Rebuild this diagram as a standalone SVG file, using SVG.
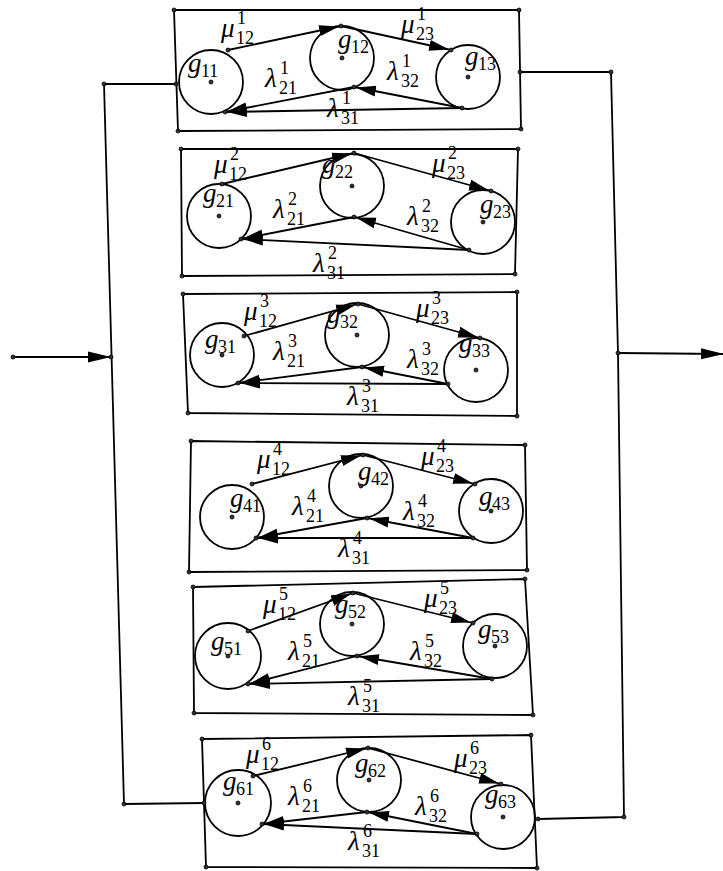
<svg xmlns="http://www.w3.org/2000/svg" width="723" height="871" viewBox="0 0 723 871">
<defs>
<style>
.bx{fill:none;stroke:#000;stroke-width:1.8}
.nd{fill:none;stroke:#000;stroke-width:1.8}
.ln{fill:none;stroke:#000;stroke-width:1.8}
.ar{fill:none;stroke:#000;stroke-width:1.8;marker-end:url(#ah)}
.pt{fill:#333;stroke:#000;stroke-width:0.8}
.m{font-family:"Liberation Serif",serif;font-style:italic;font-size:27px;fill:#000}
.s{font-family:"Liberation Serif",serif;font-size:18px;fill:#000}
</style>
<marker id="ah" markerUnits="userSpaceOnUse" markerWidth="21" markerHeight="12" viewBox="0 0 21 12" refX="22" refY="6" orient="auto"><path d="M0,0.5 L20,6 L0,11.5 z" fill="#000"/></marker>
<marker id="ahb" markerUnits="userSpaceOnUse" markerWidth="24" markerHeight="12" viewBox="0 0 24 12" refX="23" refY="6" orient="auto"><path d="M0,0.5 L23,6 L0,11.5 z" fill="#000"/></marker>
</defs>
<rect width="723" height="871" fill="#fff"/>

<g id="connectors">
<polyline class="ln" points="176,84 104,84 124,804 204,803"/>
<line class="ln" x1="13" y1="357" x2="111" y2="357" marker-end="url(#ahb)"/>
<polyline class="ln" points="520,72 611,72 618,353 624,817 538,819"/>
<line class="ln" x1="618" y1="353" x2="724" y2="354" marker-end="url(#ahb)"/>
<line class="ar" x1="228" y1="50" x2="341" y2="26"/>
<line class="ar" x1="341" y1="26" x2="451" y2="50"/>
<line class="ar" x1="354" y1="87" x2="225" y2="112"/>
<line class="ar" x1="462" y1="108" x2="354" y2="87"/>
<line class="ar" x1="462" y1="108" x2="225" y2="112"/>
<line class="ar" x1="222" y1="184" x2="354" y2="153"/>
<line class="ar" x1="354" y1="153" x2="491" y2="191"/>
<line class="ar" x1="354" y1="217" x2="241" y2="239"/>
<line class="ar" x1="469" y1="250" x2="354" y2="217"/>
<line class="ar" x1="469" y1="250" x2="241" y2="239"/>
<line class="ar" x1="244" y1="336" x2="358" y2="304"/>
<line class="ar" x1="358" y1="304" x2="480" y2="338"/>
<line class="ar" x1="362" y1="367" x2="238" y2="383"/>
<line class="ar" x1="448" y1="384" x2="362" y2="367"/>
<line class="ar" x1="448" y1="384" x2="238" y2="383"/>
<line class="ar" x1="252" y1="484" x2="363" y2="455"/>
<line class="ar" x1="363" y1="455" x2="475" y2="484"/>
<line class="ar" x1="367" y1="518" x2="256" y2="538"/>
<line class="ar" x1="473" y1="538" x2="367" y2="518"/>
<line class="ar" x1="473" y1="538" x2="256" y2="538"/>
<line class="ar" x1="248" y1="631" x2="353" y2="593"/>
<line class="ar" x1="353" y1="593" x2="473" y2="623"/>
<line class="ar" x1="357" y1="656" x2="248" y2="684"/>
<line class="ar" x1="492" y1="679" x2="357" y2="656"/>
<line class="ar" x1="492" y1="679" x2="248" y2="684"/>
<line class="ar" x1="253" y1="776" x2="368" y2="748"/>
<line class="ar" x1="368" y1="748" x2="501" y2="784"/>
<line class="ar" x1="367" y1="812" x2="262" y2="824"/>
<line class="ar" x1="477" y1="834" x2="367" y2="812"/>
<line class="ar" x1="477" y1="834" x2="262" y2="824"/>
</g>

<g id="box1">
<polygon class="bx" points="174,10 519,10 521,129 178,131"/>
<g id="g11"><circle class="nd" cx="211" cy="82" r="32"/><text><tspan class="m" x="188" y="72">g</tspan><tspan class="s" x="201" y="77">11</tspan></text></g>
<g id="g12"><circle class="nd" cx="342" cy="58" r="32"/><text><tspan class="m" x="338" y="48">g</tspan><tspan class="s" x="351" y="53">12</tspan></text></g>
<g id="g13"><circle class="nd" cx="468" cy="77" r="32"/><text><tspan class="m" x="465" y="65">g</tspan><tspan class="s" x="478" y="70">13</tspan></text></g>
<text><tspan class="m" x="221" y="37">μ</tspan><tspan class="s" x="236" y="44">12</tspan><tspan class="s" x="237" y="24">1</tspan></text>
<text><tspan class="m" x="401" y="33">μ</tspan><tspan class="s" x="416" y="40">23</tspan><tspan class="s" x="417" y="20">1</tspan></text>
<text><tspan class="m" x="265" y="87">λ</tspan><tspan class="s" x="279" y="94">21</tspan><tspan class="s" x="280" y="74">1</tspan></text>
<text><tspan class="m" x="387" y="80">λ</tspan><tspan class="s" x="401" y="87">32</tspan><tspan class="s" x="402" y="67">1</tspan></text>
<text><tspan class="m" x="327" y="117">λ</tspan><tspan class="s" x="341" y="124">31</tspan><tspan class="s" x="342" y="104">1</tspan></text>
</g>

<g id="box2">
<polygon class="bx" points="181,149 518,149 515,274 182,276"/>
<g id="g21"><circle class="nd" cx="219" cy="216" r="32"/><text><tspan class="m" x="203" y="202">g</tspan><tspan class="s" x="216" y="207">21</tspan></text></g>
<g id="g22"><circle class="nd" cx="352" cy="186" r="32"/><text><tspan class="m" x="322" y="173">g</tspan><tspan class="s" x="335" y="178">22</tspan></text></g>
<g id="g23"><circle class="nd" cx="483" cy="222" r="32"/><text><tspan class="m" x="480" y="213">g</tspan><tspan class="s" x="493" y="218">23</tspan></text></g>
<text><tspan class="m" x="214" y="173">μ</tspan><tspan class="s" x="229" y="180">12</tspan><tspan class="s" x="230" y="160">2</tspan></text>
<text><tspan class="m" x="432" y="172">μ</tspan><tspan class="s" x="447" y="179">23</tspan><tspan class="s" x="448" y="159">2</tspan></text>
<text><tspan class="m" x="273" y="218">λ</tspan><tspan class="s" x="287" y="225">21</tspan><tspan class="s" x="288" y="205">2</tspan></text>
<text><tspan class="m" x="407" y="225">λ</tspan><tspan class="s" x="421" y="232">32</tspan><tspan class="s" x="422" y="212">2</tspan></text>
<text><tspan class="m" x="313" y="272">λ</tspan><tspan class="s" x="327" y="279">31</tspan><tspan class="s" x="328" y="259">2</tspan></text>
</g>

<g id="box3">
<polygon class="bx" points="183,294 517,292 517,416 188,413"/>
<g id="g31"><circle class="nd" cx="222" cy="355" r="32"/><text><tspan class="m" x="205" y="348">g</tspan><tspan class="s" x="218" y="353">31</tspan></text></g>
<g id="g32"><circle class="nd" cx="357" cy="335" r="32"/><text><tspan class="m" x="327" y="323">g</tspan><tspan class="s" x="340" y="328">32</tspan></text></g>
<g id="g33"><circle class="nd" cx="476" cy="370" r="32"/><text><tspan class="m" x="459" y="352">g</tspan><tspan class="s" x="472" y="357">33</tspan></text></g>
<text><tspan class="m" x="244" y="320">μ</tspan><tspan class="s" x="259" y="327">12</tspan><tspan class="s" x="260" y="307">3</tspan></text>
<text><tspan class="m" x="416" y="317">μ</tspan><tspan class="s" x="431" y="324">23</tspan><tspan class="s" x="432" y="304">3</tspan></text>
<text><tspan class="m" x="273" y="360">λ</tspan><tspan class="s" x="287" y="367">21</tspan><tspan class="s" x="288" y="347">3</tspan></text>
<text><tspan class="m" x="407" y="368">λ</tspan><tspan class="s" x="421" y="375">32</tspan><tspan class="s" x="422" y="355">3</tspan></text>
<text><tspan class="m" x="347" y="405">λ</tspan><tspan class="s" x="361" y="412">31</tspan><tspan class="s" x="362" y="392">3</tspan></text>
</g>

<g id="box4">
<polygon class="bx" points="191,441 525,445 527,570 189,572"/>
<g id="g41"><circle class="nd" cx="232" cy="517" r="32"/><text><tspan class="m" x="230" y="507">g</tspan><tspan class="s" x="243" y="512">41</tspan></text></g>
<g id="g42"><circle class="nd" cx="361" cy="486" r="32"/><text><tspan class="m" x="358" y="480">g</tspan><tspan class="s" x="371" y="485">42</tspan></text></g>
<g id="g43"><circle class="nd" cx="491" cy="511" r="32"/><text><tspan class="m" x="479" y="505">g</tspan><tspan class="s" x="492" y="510">43</tspan></text></g>
<text><tspan class="m" x="257" y="468">μ</tspan><tspan class="s" x="272" y="475">12</tspan><tspan class="s" x="273" y="455">4</tspan></text>
<text><tspan class="m" x="421" y="465">μ</tspan><tspan class="s" x="436" y="472">23</tspan><tspan class="s" x="437" y="452">4</tspan></text>
<text><tspan class="m" x="292" y="515">λ</tspan><tspan class="s" x="306" y="522">21</tspan><tspan class="s" x="307" y="502">4</tspan></text>
<text><tspan class="m" x="403" y="520">λ</tspan><tspan class="s" x="417" y="527">32</tspan><tspan class="s" x="418" y="507">4</tspan></text>
<text><tspan class="m" x="338" y="557">λ</tspan><tspan class="s" x="352" y="564">31</tspan><tspan class="s" x="353" y="544">4</tspan></text>
</g>

<g id="box5">
<polygon class="bx" points="193,587 525,579 533,715 194,713"/>
<g id="g51"><circle class="nd" cx="228" cy="656" r="33"/><text><tspan class="m" x="211" y="650">g</tspan><tspan class="s" x="224" y="655">51</tspan></text></g>
<g id="g52"><circle class="nd" cx="352" cy="624" r="32"/><text><tspan class="m" x="335" y="613">g</tspan><tspan class="s" x="348" y="618">52</tspan></text></g>
<g id="g53"><circle class="nd" cx="495" cy="646" r="32"/><text><tspan class="m" x="478" y="638">g</tspan><tspan class="s" x="491" y="643">53</tspan></text></g>
<text><tspan class="m" x="263" y="613">μ</tspan><tspan class="s" x="278" y="620">12</tspan><tspan class="s" x="279" y="600">5</tspan></text>
<text><tspan class="m" x="424" y="607">μ</tspan><tspan class="s" x="439" y="614">23</tspan><tspan class="s" x="440" y="594">5</tspan></text>
<text><tspan class="m" x="288" y="660">λ</tspan><tspan class="s" x="302" y="667">21</tspan><tspan class="s" x="303" y="647">5</tspan></text>
<text><tspan class="m" x="410" y="660">λ</tspan><tspan class="s" x="424" y="667">32</tspan><tspan class="s" x="425" y="647">5</tspan></text>
<text><tspan class="m" x="348" y="705">λ</tspan><tspan class="s" x="362" y="712">31</tspan><tspan class="s" x="363" y="692">5</tspan></text>
</g>

<g id="box6">
<polygon class="bx" points="202,739 531,735 537,868 206,867"/>
<g id="g61"><circle class="nd" cx="238" cy="803" r="33"/><text><tspan class="m" x="223" y="790">g</tspan><tspan class="s" x="236" y="795">61</tspan></text></g>
<g id="g62"><circle class="nd" cx="369" cy="780" r="32"/><text><tspan class="m" x="355" y="772">g</tspan><tspan class="s" x="368" y="777">62</tspan></text></g>
<g id="g63"><circle class="nd" cx="503" cy="817" r="32"/><text><tspan class="m" x="485" y="803">g</tspan><tspan class="s" x="498" y="808">63</tspan></text></g>
<text><tspan class="m" x="246" y="763">μ</tspan><tspan class="s" x="261" y="770">12</tspan><tspan class="s" x="262" y="750">6</tspan></text>
<text><tspan class="m" x="454" y="767">μ</tspan><tspan class="s" x="469" y="774">23</tspan><tspan class="s" x="470" y="754">6</tspan></text>
<text><tspan class="m" x="288" y="805">λ</tspan><tspan class="s" x="302" y="812">21</tspan><tspan class="s" x="303" y="792">6</tspan></text>
<text><tspan class="m" x="415" y="815">λ</tspan><tspan class="s" x="429" y="822">32</tspan><tspan class="s" x="430" y="802">6</tspan></text>
<text><tspan class="m" x="348" y="850">λ</tspan><tspan class="s" x="362" y="857">31</tspan><tspan class="s" x="363" y="837">6</tspan></text>
</g>

<g id="points">
<circle class="pt" cx="13" cy="357" r="2"/><circle class="pt" cx="111" cy="357" r="2"/><circle class="pt" cx="104" cy="84" r="2"/><circle class="pt" cx="124" cy="804" r="2"/><circle class="pt" cx="176" cy="84" r="2"/><circle class="pt" cx="204" cy="803" r="2"/>
<circle class="pt" cx="520" cy="72" r="2"/><circle class="pt" cx="611" cy="72" r="2"/><circle class="pt" cx="618" cy="353" r="2"/><circle class="pt" cx="624" cy="817" r="2"/><circle class="pt" cx="538" cy="819" r="2"/>
<circle class="pt" cx="174" cy="10" r="2"/><circle class="pt" cx="519" cy="10" r="2"/><circle class="pt" cx="521" cy="129" r="2"/><circle class="pt" cx="178" cy="131" r="2"/>
<circle class="pt" cx="181" cy="149" r="2"/><circle class="pt" cx="518" cy="149" r="2"/><circle class="pt" cx="515" cy="274" r="2"/><circle class="pt" cx="182" cy="276" r="2"/>
<circle class="pt" cx="183" cy="294" r="2"/><circle class="pt" cx="517" cy="292" r="2"/><circle class="pt" cx="517" cy="416" r="2"/><circle class="pt" cx="188" cy="413" r="2"/>
<circle class="pt" cx="191" cy="441" r="2"/><circle class="pt" cx="525" cy="445" r="2"/><circle class="pt" cx="527" cy="570" r="2"/><circle class="pt" cx="189" cy="572" r="2"/>
<circle class="pt" cx="193" cy="587" r="2"/><circle class="pt" cx="525" cy="579" r="2"/><circle class="pt" cx="533" cy="715" r="2"/><circle class="pt" cx="194" cy="713" r="2"/>
<circle class="pt" cx="202" cy="739" r="2"/><circle class="pt" cx="531" cy="735" r="2"/><circle class="pt" cx="537" cy="868" r="2"/><circle class="pt" cx="206" cy="867" r="2"/>
<circle class="pt" cx="211" cy="82" r="2"/><circle class="pt" cx="342" cy="58" r="2"/><circle class="pt" cx="468" cy="77" r="2"/>
<circle class="pt" cx="219" cy="216" r="2"/><circle class="pt" cx="352" cy="186" r="2"/><circle class="pt" cx="483" cy="222" r="2"/>
<circle class="pt" cx="222" cy="355" r="2"/><circle class="pt" cx="357" cy="335" r="2"/><circle class="pt" cx="476" cy="370" r="2"/>
<circle class="pt" cx="232" cy="517" r="2"/><circle class="pt" cx="361" cy="486" r="2"/><circle class="pt" cx="491" cy="511" r="2"/>
<circle class="pt" cx="228" cy="656" r="2"/><circle class="pt" cx="352" cy="624" r="2"/><circle class="pt" cx="495" cy="646" r="2"/>
<circle class="pt" cx="238" cy="803" r="2"/><circle class="pt" cx="369" cy="780" r="2"/><circle class="pt" cx="503" cy="817" r="2"/>
<circle class="pt" cx="228" cy="50" r="2"/><circle class="pt" cx="341" cy="26" r="2"/><circle class="pt" cx="451" cy="50" r="2"/><circle class="pt" cx="354" cy="87" r="2"/><circle class="pt" cx="225" cy="112" r="2"/><circle class="pt" cx="462" cy="108" r="2"/>
<circle class="pt" cx="222" cy="184" r="2"/><circle class="pt" cx="354" cy="153" r="2"/><circle class="pt" cx="491" cy="191" r="2"/><circle class="pt" cx="354" cy="217" r="2"/><circle class="pt" cx="241" cy="239" r="2"/><circle class="pt" cx="469" cy="250" r="2"/>
<circle class="pt" cx="244" cy="336" r="2"/><circle class="pt" cx="358" cy="304" r="2"/><circle class="pt" cx="480" cy="338" r="2"/><circle class="pt" cx="362" cy="367" r="2"/><circle class="pt" cx="238" cy="383" r="2"/><circle class="pt" cx="448" cy="384" r="2"/>
<circle class="pt" cx="252" cy="484" r="2"/><circle class="pt" cx="363" cy="455" r="2"/><circle class="pt" cx="475" cy="484" r="2"/><circle class="pt" cx="367" cy="518" r="2"/><circle class="pt" cx="256" cy="538" r="2"/><circle class="pt" cx="473" cy="538" r="2"/>
<circle class="pt" cx="248" cy="631" r="2"/><circle class="pt" cx="353" cy="593" r="2"/><circle class="pt" cx="473" cy="623" r="2"/><circle class="pt" cx="357" cy="656" r="2"/><circle class="pt" cx="248" cy="684" r="2"/><circle class="pt" cx="492" cy="679" r="2"/>
<circle class="pt" cx="253" cy="776" r="2"/><circle class="pt" cx="368" cy="748" r="2"/><circle class="pt" cx="501" cy="784" r="2"/><circle class="pt" cx="367" cy="812" r="2"/><circle class="pt" cx="262" cy="824" r="2"/><circle class="pt" cx="477" cy="834" r="2"/>
</g>
</svg>
